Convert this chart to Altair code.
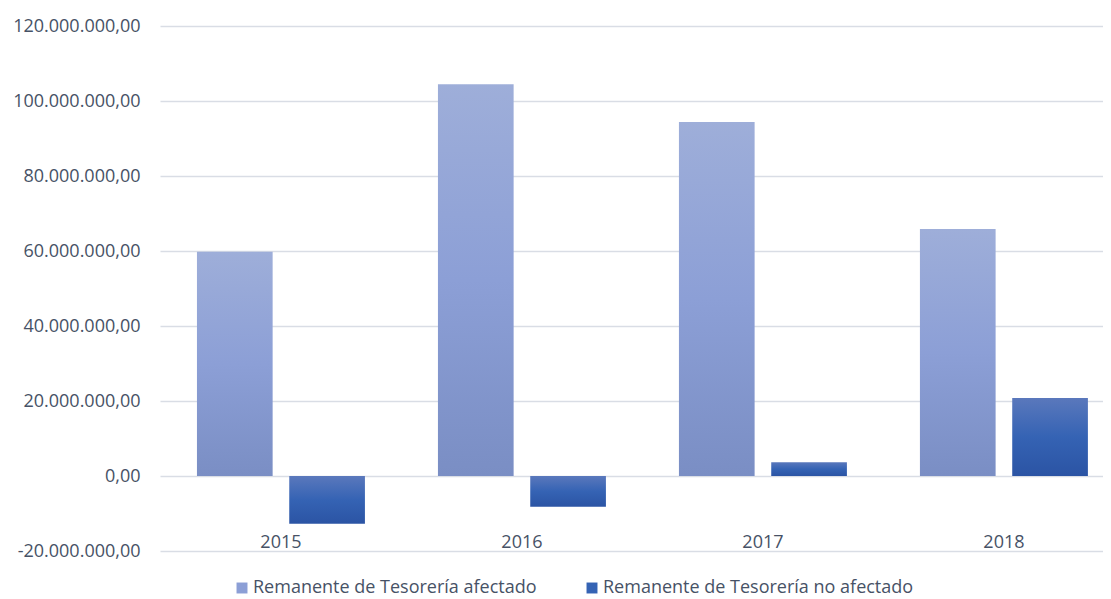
import altair as alt
import pandas as pd

years = ["2015", "2016", "2017", "2018"]
afectado = [59_800_000, 104_500_000, 94_400_000, 65_900_000]
no_afectado = [-12_700_000, -8_200_000, 3_700_000, 20_800_000]
series = ["Remanente de Tesorería afectado", "Remanente de Tesorería no afectado"]
y_ticks = [-20_000_000, 0, 20_000_000, 40_000_000, 60_000_000, 80_000_000, 100_000_000, 120_000_000]

rows = []
for yr, a, n in zip(years, afectado, no_afectado):
    rows.append({"year": yr, "serie": series[0], "valor": a})
    rows.append({"year": yr, "serie": series[1], "valor": n})
df = pd.DataFrame(rows)

FONT = "Open Sans"
TEXT = "#475266"
GRID = "#d9dde5"

grad_a = {
    "gradient": "linear", "x1": 0, "y1": 0, "x2": 0, "y2": 1,
    "stops": [
        {"offset": 0, "color": "#9eaed9"},
        {"offset": 0.5, "color": "#8c9fd6"},
        {"offset": 1, "color": "#7a8ec4"},
    ],
}
grad_n = {
    "gradient": "linear", "x1": 0, "y1": 0, "x2": 0, "y2": 1,
    "stops": [
        {"offset": 0, "color": "#5a78bc"},
        {"offset": 0.5, "color": "#3563b4"},
        {"offset": 1, "color": "#2b54a4"},
    ],
}

x_enc = alt.X(
    "year:N", title=None, sort=years,
    scale=alt.Scale(paddingInner=0.303, paddingOuter=0.108, align=0.71),
    axis=alt.Axis(labelAngle=0, domain=False, ticks=False, offset=-20, labelPadding=2,
                  labelFontSize=18, labelColor=TEXT, labelFont=FONT, grid=False),
)
xo_enc = alt.XOffset("serie:N", scale=alt.Scale(domain=series, paddingInner=0.18, paddingOuter=0))
y_enc = alt.Y(
    "valor:Q", title=None,
    scale=alt.Scale(domain=[-20_000_000, 120_000_000], nice=False),
    axis=alt.Axis(values=y_ticks, format=",.2f", domain=False, ticks=False, labelPadding=20,
                  labelFontSize=18, labelColor=TEXT, labelFont=FONT,
                  grid=True, gridColor=GRID, gridWidth=1.3),
)

base = alt.Chart(df).encode(x=x_enc, xOffset=xo_enc, y=y_enc)

bar_a = base.transform_filter(alt.datum.serie == series[0]).mark_bar(color=grad_a)
bar_n = base.transform_filter(alt.datum.serie == series[1]).mark_bar(color=grad_n)
legend_layer = base.mark_bar(opacity=0).encode(
    color=alt.Color(
        "serie:N",
        scale=alt.Scale(domain=series, range=["#8c9fd6", "#3563b4"]),
        legend=alt.Legend(
            title=None, orient="none", direction="horizontal",
            legendX=73, legendY=553, padding=0,
            symbolType="square", symbolSize=120, symbolOpacity=1, symbolStrokeWidth=0,
            labelFontSize=18, labelColor=TEXT, labelFont=FONT, labelOffset=2,
            labelLimit=500, columnPadding=46,
        ),
    )
)

chart = (
    alt.layer(bar_a, bar_n, legend_layer)
    .properties(
        width=943, height=525,
        padding={"left": 152, "top": 18, "right": 0, "bottom": 48},
        autosize=alt.AutoSizeParams(type="none"),
    )
    .configure(locale={"number": {"decimal": ",", "thousands": ".", "grouping": [3],
                                  "currency": ["", " €"], "minus": "-"}})
    .configure_view(stroke=None)
)

chart.save("out.html", embed_options={"renderer": "svg", "actions": False})
